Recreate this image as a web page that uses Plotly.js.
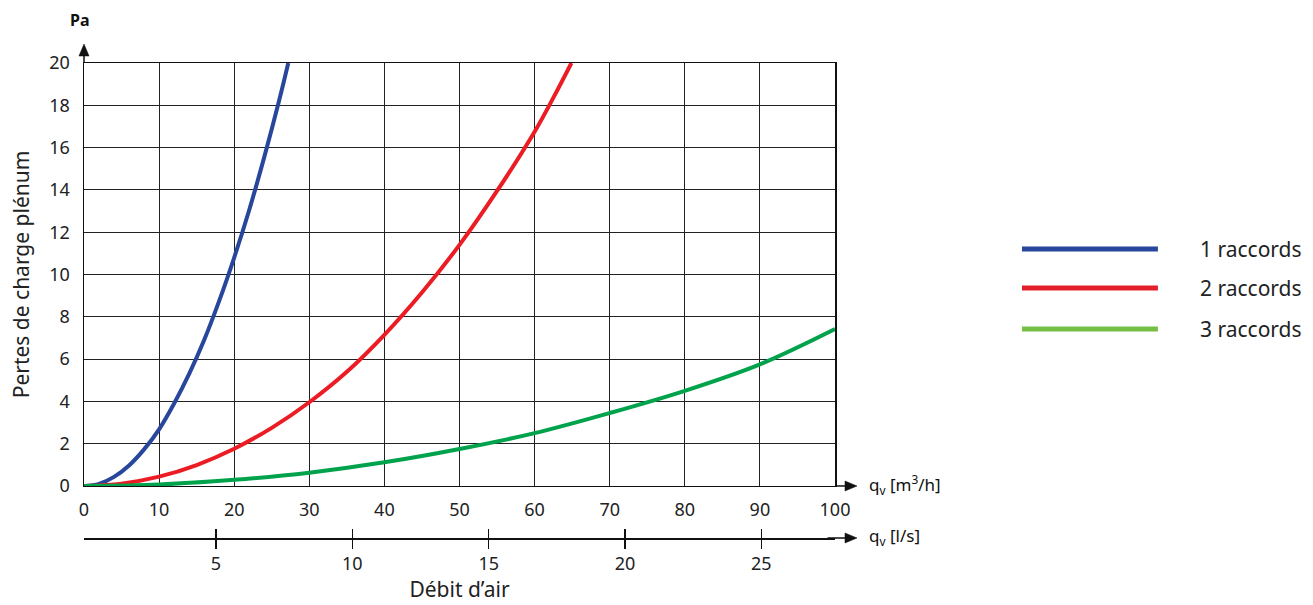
<!DOCTYPE html>
<html>
<head>
<meta charset="utf-8">
<script src="https://cdn.plot.ly/plotly-3.0.1.min.js"></script>
<style>html,body{margin:0;padding:0;background:#fff;}#chart{width:1313px;height:605px;}</style>
</head>
<body>
<div id="chart"></div>
<script>
// Débit d'air (m³/h) and pertes de charge (Pa)
const x1 = [0, 2, 4, 6, 8, 10, 12, 14, 16, 18, 20, 22, 24, 26, 27.2];
const y1 = [0, 0.1, 0.43, 0.97, 1.73, 2.68, 3.9, 5.3, 6.9, 8.75, 10.8, 13.05, 15.55, 18.25, 20];

const x2 = [0, 5, 10, 15, 20, 25, 30, 35, 40, 45, 50, 55, 60, 62.5, 64.9];
const y2 = [0, 0.11, 0.44, 0.99, 1.76, 2.75, 3.96, 5.4, 7.15, 9.15, 11.4, 13.95, 16.75, 18.36, 20];

const x3 = [0, 10, 20, 30, 40, 50, 60, 70, 80, 90, 100];
const y3 = [0, 0.07, 0.29, 0.63, 1.12, 1.75, 2.5, 3.45, 4.5, 5.75, 7.42];

const seriesNames = ['1 raccords', '2 raccords', '3 raccords'];
const lineColors = ['#27469c', '#ec1c24', '#00a34b'];
const legendColors = ['#27469c', '#e3202a', '#74bf44'];

const xTicks = [0, 10, 20, 30, 40, 50, 60, 70, 80, 90, 100];
const yTicks = [0, 2, 4, 6, 8, 10, 12, 14, 16, 18, 20];
const lsTicks = [5, 10, 15, 20, 25];

const font = 'Noto Sans, DejaVu Sans, sans-serif';
const clear = 'rgba(0,0,0,0)';

const traces = [[x1, y1], [x2, y2], [x3, y3]].map((d, i) => ({
  x: d[0], y: d[1], type: 'scatter', mode: 'lines', name: seriesNames[i],
  line: {color: lineColors[i], width: 4, shape: 'spline', smoothing: 1},
  showlegend: false, xaxis: 'x', yaxis: 'y', hoverinfo: 'x+y'
}));
// helper traces to activate the l/s axes
traces.push({x: [1, 27], y: [0, 0], xaxis: 'x2', yaxis: 'y', mode: 'none', showlegend: false, hoverinfo: 'skip'});
traces.push({x: [1, 27], y: [0, 0], xaxis: 'x3', yaxis: 'y', mode: 'none', showlegend: false, hoverinfo: 'skip'});

const lsRange = [0.16, 27.7];

const shapes = [];
const annotations = [];
// legend drawn in paper coordinates
const legY = [0.6084, 0.5263, 0.44];
seriesNames.forEach((n, i) => {
  shapes.push({type: 'line', xref: 'paper', yref: 'paper', x0: 1.249, x1: 1.430, y0: legY[i], y1: legY[i],
    line: {color: legendColors[i], width: 5}});
  annotations.push({xref: 'paper', yref: 'paper', x: 1.484, y: legY[i], xanchor: 'left', yanchor: 'middle',
    text: n, showarrow: false, font: {family: font, size: 21, color: '#222'}});
});
// axis arrows (line extension + triangular head)
const ax = '#111';
shapes.push({type: 'line', xref: 'paper', yref: 'paper', x0: 0, x1: 0, y0: 1, y1: 1.02, line: {color: ax, width: 1.5}});
shapes.push({type: 'path', xref: 'paper', yref: 'paper', path: 'M -0.0067 1.0147 L 0 1.0400 L 0.0067 1.0147 Z', fillcolor: ax, line: {color: ax, width: 0.5}});
[0.1095, 0].forEach((yy, k) => {
  shapes.push({type: 'line', xref: 'paper', yref: 'paper', x0: k === 0 ? 1 : 0.99, x1: 1.016, y0: yy, y1: yy, line: {color: ax, width: 1.5}});
  shapes.push({type: 'path', xref: 'paper', yref: 'paper',
    path: 'M 1.0133 ' + (yy - 0.0105) + ' L 1.0293 ' + yy + ' L 1.0133 ' + (yy + 0.0105) + ' Z', fillcolor: ax, line: {color: ax, width: 0.5}});
});
// axis unit labels
annotations.push({xref: 'paper', yref: 'paper', x: -0.005, y: 1.0905, xanchor: 'center', yanchor: 'middle', text: '<b>Pa</b>', showarrow: false,
  font: {family: font, size: 16, color: '#111'}});
annotations.push({xref: 'paper', yref: 'paper', x: 1.043, y: 0.1135, xanchor: 'left', yanchor: 'middle', text: 'q<sub>v</sub> [m<sup>3</sup>/h]', showarrow: false,
  font: {family: font, size: 17, color: '#111'}});
annotations.push({xref: 'paper', yref: 'paper', x: 1.043, y: 0.004, xanchor: 'left', yanchor: 'middle', text: 'q<sub>v</sub> [l/s]', showarrow: false,
  font: {family: font, size: 17, color: '#111'}});

const layout = {
  width: 1313, height: 605,
  margin: {l: 84, r: 478, t: 63, b: 67},
  paper_bgcolor: '#fff', plot_bgcolor: '#fff',
  font: {family: font, size: 18, color: '#222'},
  showlegend: false,
  xaxis: {range: [0, 100], tickvals: xTicks, ticktext: xTicks.map(String), showgrid: true, gridcolor: '#222', gridwidth: 1,
    showline: true, linecolor: '#111', linewidth: 1.5, mirror: true, zeroline: false, ticks: 'outside', ticklen: 7, tickcolor: clear,
    anchor: 'y', fixedrange: true, tickfont: {size: 18, color: '#222'}},
  yaxis: {range: [0, 20], domain: [0.1095, 1], tickvals: yTicks, ticktext: yTicks.map(String), showgrid: true, gridcolor: '#222', gridwidth: 1,
    showline: true, linecolor: '#111', linewidth: 1.5, mirror: true, zeroline: false, ticks: 'outside', ticklen: 9, tickcolor: clear,
    title: {text: 'Pertes de charge plénum', font: {size: 21, color: '#222'}, standoff: 14},
    fixedrange: true, tickfont: {size: 18, color: '#222'}},
  xaxis2: {range: lsRange, overlaying: 'x', anchor: 'free', position: 0, side: 'bottom', tickvals: lsTicks, ticktext: lsTicks.map(String),
    showgrid: false, zeroline: false, showline: true, linecolor: '#111', linewidth: 1.5, ticks: 'outside', ticklen: 9, tickwidth: 1.5, tickcolor: '#111',
    title: {text: 'Débit d\u2019air', font: {size: 21, color: '#222'}, standoff: 8}, tickfont: {size: 18, color: '#222'}, fixedrange: true},
  xaxis3: {range: lsRange, overlaying: 'x', anchor: 'free', position: 0, side: 'bottom', tickvals: lsTicks, showticklabels: false,
    showgrid: false, zeroline: false, showline: false, ticks: 'inside', ticklen: 9, tickwidth: 1.5, tickcolor: '#111', fixedrange: true},
  shapes: shapes,
  annotations: annotations
};

Plotly.newPlot('chart', traces, layout, {displayModeBar: false, staticPlot: true});
</script>
</body>
</html>
